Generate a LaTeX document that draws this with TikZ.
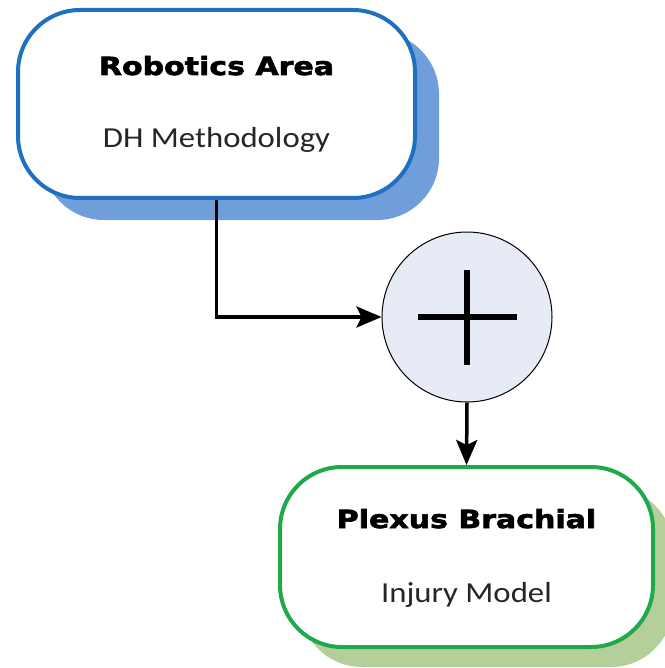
\documentclass[tikz,border=0pt]{standalone}
\usepackage{fontspec}
\setmainfont{Carlito}[FakeStretch=1.13]
\newfontfamily\heavyfont{DejaVu Sans}[FakeStretch=1.2, BoldFeatures={FakeBold=2.5}]
\usetikzlibrary{positioning,shadows,arrows.meta}

\definecolor{areablue}{RGB}{31,112,193}
\definecolor{areashade}{RGB}{112,158,219}
\definecolor{modelgreen}{RGB}{30,170,75}
\definecolor{modelshade}{RGB}{181,207,154}
\definecolor{sumfill}{RGB}{230,235,246}

\begin{document}
\begin{tikzpicture}[
  x=1pt, y=-1pt,
  area/.style={
    draw, line width=4pt, rounded corners=62pt,
    fill=white, inner sep=0pt
  },
  title/.style={font=\heavyfont\bfseries\fontsize{25}{28}\selectfont, text=black},
  sub/.style={font=\fontsize{29}{33}\selectfont, text=black!85},
  sum/.style={circle, draw, line width=1pt, fill=sumfill, minimum size=170pt, inner sep=0pt},
  arr/.style={line width=3.5pt, -{Stealth[length=25pt, width=21pt, inset=5pt]}}
]
\useasboundingbox (0,0) rectangle (664,668);

% --- Robotics box ---
\node[area, draw=areablue, minimum width=397pt, minimum height=188pt,
  drop shadow={shadow xshift=24pt, shadow yshift=-22pt, fill=areashade, opacity=1}]
  (robot) at (216.5,104) {};
\node[title, anchor=base] (robottitle) at ([yshift=29pt]robot.center) {Robotics Area};
\node[sub, anchor=base] (robotsub) at ([yshift=-44pt]robot.center) {DH Methodology};

% --- Sum ---
\node[sum] (plus) at (467,317) {};
\draw[line width=6pt] ([xshift=-49pt]plus.center) -- ([xshift=50pt]plus.center);
\draw[line width=6pt] ([yshift=47pt]plus.center) -- ([yshift=-48pt]plus.center);

% --- Plexus box ---
\node[area, draw=modelgreen, minimum width=373pt, minimum height=180pt,
  drop shadow={shadow xshift=20pt, shadow yshift=-20pt, fill=modelshade, opacity=1}]
  (plexus) at (466.5,557) {};
\node[title, anchor=base] (plexustitle) at ([yshift=29pt]plexus.center) {Plexus Brachial};
\node[sub, anchor=base] (plexussub) at ([yshift=-45pt]plexus.center) {Injury Model};

% --- connectors ---
\draw[arr] (robot.south) |- (plus.west);
\draw[arr] (plus.south) -- (plexus.north);

\end{tikzpicture}
\end{document}
